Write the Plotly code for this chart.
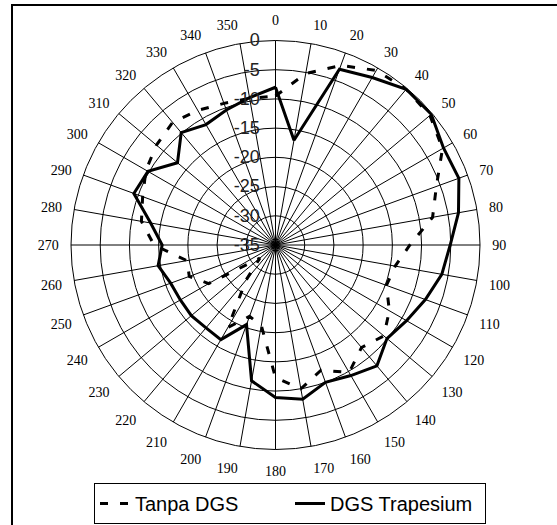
import plotly.graph_objects as go

angles = list(range(0, 360, 10))

tanpa_dgs = [-9.5, -5.2, -2.3, -0.5, -0.2, -0.5, -2.0, -5.7, -7.7, -12.0,
             -14.2, -14.8, -12.5, -10.8, -12.1, -9.8, -12.2, -10.0, -12.3, -21.0,
             -22.0, -18.7, -27.2, -31.5, -21.8, -19.3, -19.6, -14.2, -11.7, -10.8,
             -9.4, -8.4, -7.6, -8.4, -9.2, -9.5]

dgs_trapesium = [-8.0, -16.8, -3.0, -1.9, -0.2, -0.2, -1.8, -1.6, -3.2, -5.1,
                 -6.1, -7.7, -9.1, -10.1, -8.0, -9.2, -10.0, -8.2, -8.9, -11.4,
                 -20.5, -16.3, -16.5, -16.2, -16.2, -15.9, -14.6, -15.6, -13.3, -9.2,
                 -9.8, -13.1, -9.9, -11.2, -10.4, -9.4]

radial_ticks = [-35, -30, -25, -20, -15, -10, -5, 0]
angle_ticks = list(range(0, 360, 10))

W, H = 557, 525
cx, cy, R = 275.5, 245.0, 204.5

fig = go.Figure()
fig.add_trace(go.Scatterpolar(
    r=tanpa_dgs + tanpa_dgs[:1], theta=angles + angles[:1], mode="lines",
    name="Tanpa DGS", line=dict(color="black", width=3, dash="8px,12px"),
    cliponaxis=False))
fig.add_trace(go.Scatterpolar(
    r=dgs_trapesium + dgs_trapesium[:1], theta=angles + angles[:1], mode="lines",
    name="DGS Trapesium", line=dict(color="black", width=3),
    cliponaxis=False))

fig.update_layout(
    width=W, height=H,
    margin=dict(l=0, r=0, t=0, b=0),
    paper_bgcolor="white",
    showlegend=True,
    polar=dict(
        domain=dict(x=[(cx - R) / W, (cx + R) / W],
                    y=[1 - (cy + R) / H, 1 - (cy - R) / H]),
        bgcolor="white",
        angularaxis=dict(
            rotation=90, direction="clockwise",
            tickmode="array", tickvals=angle_ticks,
            ticktext=[str(a) for a in angle_ticks],
            showgrid=True, gridcolor="black", gridwidth=1,
            showline=True, linecolor="black", linewidth=1,
            ticks="outside", ticklen=9, tickcolor="rgba(0,0,0,0)",
            tickfont=dict(family="Liberation Serif", size=14, color="black"),
        ),
        radialaxis=dict(
            range=[-35, 0], angle=90, side="counterclockwise",
            tickmode="array", tickvals=radial_ticks,
            ticktext=[str(v) for v in radial_ticks],
            showgrid=True, gridcolor="black", gridwidth=1,
            showline=False, ticks="outside", ticklen=9,
            tickcolor="rgba(0,0,0,0)", tickangle=90,
            tickfont=dict(family="Liberation Sans", size=18, color="#222"),
        ),
    ),
    legend=dict(
        orientation="h", x=290 / W, xanchor="center",
        y=1 - 483 / H, yanchor="top",
        bordercolor="black", borderwidth=1, bgcolor="white",
        font=dict(family="Liberation Sans", size=20, color="black"),
        itemwidth=30, tracegroupgap=0, entrywidth=150,
    ),
    shapes=[dict(type="rect", xref="paper", yref="paper",
                 x0=12 / W, x1=1.2, y0=-0.2, y1=1 - 5 / H,
                 line=dict(color="black", width=2), layer="below")],
)

fig.write_html("out.html", config={"displayModeBar": False},
               post_script="document.body.style.margin='0';document.body.style.overflow='hidden';")
